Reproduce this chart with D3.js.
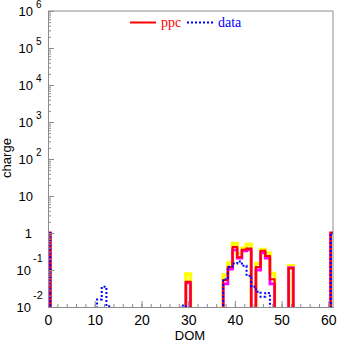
<!DOCTYPE html>
<html><head><meta charset="utf-8">
<script src="https://cdn.jsdelivr.net/npm/d3@7"></script>
<style>body{margin:0;background:#fff}svg{display:block}</style>
</head><body>
<svg id="c" width="337" height="344"></svg>
<script>
// DOM bins (bin width 1, centred on each integer); bins not listed are empty
const domBins  = [0,   11,    12,    13,     29,    30,    38,    39,   40,   41,   42,   43,   44,  45,   46,   47,   48,    52,    61];
// ppc prediction (red)
const ppc      = [1.0, 0,     0,     0,      0,     0.048, 0.054, 0.12, 0.42, 0.22, 0.35, 0.38, 0,   0.12, 0.33, 0.24, 0.056, 0.111, 1.0];
// ppc upper band (yellow)
const ppcHigh  = [1.0, 0,     0,     0,      0,     0.078, 0.073, 0.155,0.52, 0.28, 0.39, 0.50, 0,   0.15, 0.36, 0.29, 0.081, 0.131, 1.0];
// ppc lower band (magenta)
const ppcLow   = [1.0, 0,     0,     0,      0,     0.045, 0.042, 0.106,0.35, 0.21, 0.33, 0.35, 0,   0.10, 0.29, 0.21, 0.042, 0.115, 1.0];
// measured data (blue dotted)
const data     = [1.0, 0.016, 0.035, 0.0105, 0.011, 0,     0.056, 0.123,0.15, 0.17, 0.13, 0.07, 0.035,0.026,0.019,0.024,0,    0,     1.0];
const xTicksMajor = [0,10,20,30,40,50,60];
const yDecades = [-2,-1,0,1,2,3,4,5,6];

const svg = d3.select("#c");
const x = d3.scaleLinear().domain([0,61]).range([48,333]);
const y = d3.scaleLog().domain([1e-2,1e6]).range([307,11]);
const axisCol = "#8c8c8c";

svg.append("defs").append("clipPath").attr("id","clip")
  .append("rect").attr("x",48).attr("y",11).attr("width",285).attr("height",296);

function stepPath(vals){
  const below = y(1e-2)+6;
  const lo = 0, hi = domBins[domBins.length-1];
  const pts = [[x(lo-0.5), below]];
  for(let k=lo;k<=hi;k++){
    const i = domBins.indexOf(k);
    const v = i>=0 ? vals[i] : 0;
    const yy = v>0 ? y(v) : below;
    pts.push([x(k-0.5), yy]);
    pts.push([x(k+0.5), yy]);
  }
  pts.push([x(hi+0.5), below]);
  return d3.line()(pts);
}

const g = svg.append("g").attr("clip-path","url(#clip)");
g.append("path").attr("d",stepPath(ppcHigh)).attr("fill","none").attr("stroke","#ffff00").attr("stroke-width",3.5);
g.append("path").attr("d",stepPath(ppcLow)).attr("fill","none").attr("stroke","#ff00ff").attr("stroke-width",2.8);
g.append("path").attr("d",stepPath(ppc)).attr("fill","none").attr("stroke","#ff0000").attr("stroke-width",2);
g.append("path").attr("d",stepPath(data)).attr("fill","none").attr("stroke","#0000ff").attr("stroke-width",2).attr("stroke-dasharray","2,2");

// frame
svg.append("line").attr("x1",48).attr("x2",333).attr("y1",11).attr("y2",11).attr("stroke",axisCol);
svg.append("line").attr("x1",333).attr("x2",333).attr("y1",11).attr("y2",307).attr("stroke",axisCol);

// x axis
const xMinor = svg.append("g").attr("transform","translate(0,307)")
  .call(d3.axisBottom(x).tickValues(d3.range(0,61,2)).tickSize(-3).tickSizeOuter(0).tickFormat(""));
const xMajor = svg.append("g").attr("transform","translate(0,307)")
  .call(d3.axisBottom(x).tickValues(xTicksMajor).tickSize(-6).tickSizeOuter(0).tickPadding(8));
[xMinor,xMajor].forEach(a=>{a.selectAll("path,line").attr("stroke",axisCol);});
xMajor.selectAll("text").attr("font-family","Liberation Sans, Arial, sans-serif").attr("font-size",14).attr("fill","#000");

// y axis
const minorVals = [];
yDecades.slice(0,-1).forEach(d=>{for(let m=2;m<10;m++) minorVals.push(m*Math.pow(10,d));});
const yMinor = svg.append("g").attr("transform","translate(48,0)")
  .call(d3.axisLeft(y).tickValues(minorVals).tickSize(-3).tickSizeOuter(0).tickFormat(""));
const yMajor = svg.append("g").attr("transform","translate(48,0)")
  .call(d3.axisLeft(y).tickValues(yDecades.map(d=>Math.pow(10,d))).tickSize(-6).tickSizeOuter(0).tickFormat(""));
[yMinor,yMajor].forEach(a=>{a.selectAll("path,line").attr("stroke",axisCol);});

const lab = svg.append("g").attr("font-family","Liberation Sans, Arial, sans-serif").attr("fill","#000");
yDecades.forEach(d=>{
  const yy = y(Math.pow(10,d));
  if(d===0){
    lab.append("text").attr("x",32).attr("y",yy+4.5).attr("text-anchor","end").attr("font-size",13).text("1");
  } else if(d===1){
    lab.append("text").attr("x",33).attr("y",yy+4.5).attr("text-anchor","end").attr("font-size",13).text("10");
  } else if(d>1){
    lab.append("text").attr("x",33).attr("y",yy+4.5).attr("text-anchor","end").attr("font-size",13).text("10");
    lab.append("text").attr("x",36).attr("y",yy-3.5).attr("font-size",10).text(String(d));
  } else {
    lab.append("text").attr("x",31).attr("y",yy+4.5).attr("text-anchor","end").attr("font-size",13).text("10");
    lab.append("text").attr("x",33).attr("y",yy-8).attr("font-size",11).text(String(d));
  }
});

// axis titles
svg.append("text").attr("transform","translate(11,158) rotate(-90)").attr("text-anchor","middle")
  .attr("font-family","Liberation Sans, Arial, sans-serif").attr("font-size",13).text("charge");
svg.append("text").attr("x",190).attr("y",340).attr("text-anchor","middle")
  .attr("font-family","Liberation Sans, Arial, sans-serif").attr("font-size",13).text("DOM");

// legend
const leg = svg.append("g");
leg.append("line").attr("x1",130).attr("x2",156).attr("y1",22.5).attr("y2",22.5).attr("stroke","#ff0000").attr("stroke-width",2);
leg.append("text").attr("x",161).attr("y",27).attr("font-family","Liberation Serif, Times New Roman, serif").attr("font-size",14).attr("fill","#ff0000").text("ppc");
leg.append("line").attr("x1",187).attr("x2",213).attr("y1",22.5).attr("y2",22.5).attr("stroke","#0000ff").attr("stroke-width",2).attr("stroke-dasharray","2,2");
leg.append("text").attr("x",218).attr("y",27).attr("font-family","Liberation Serif, Times New Roman, serif").attr("font-size",14).attr("fill","#0000ff").text("data");
</script>
</body></html>
